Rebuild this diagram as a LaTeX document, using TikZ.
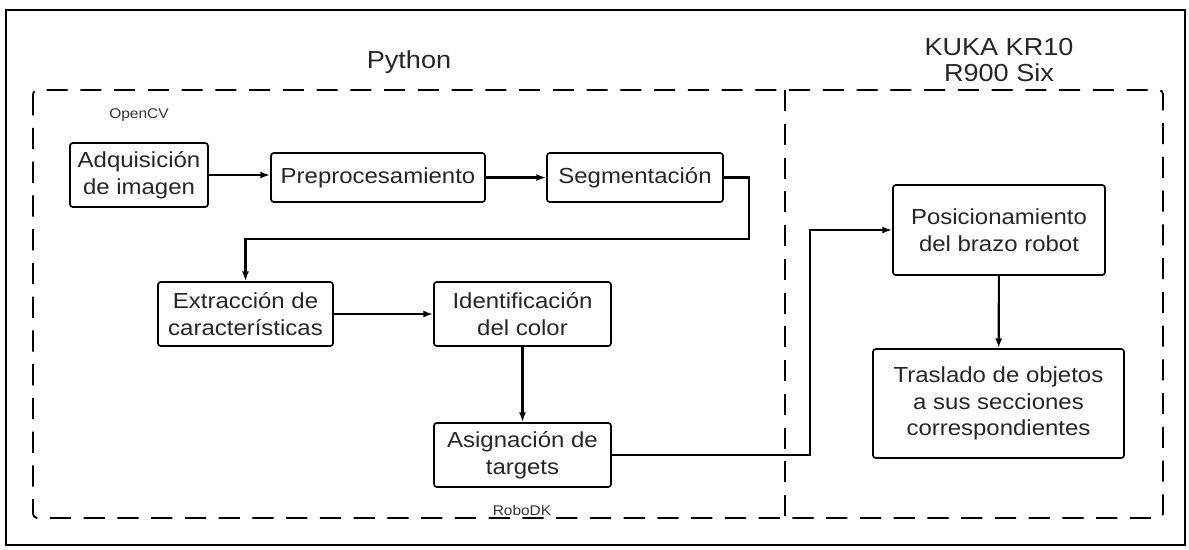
\documentclass[tikz,border=0pt]{standalone}
\usepackage{fontspec}
\setmainfont[FakeStretch=1.1]{Liberation Sans}
\usetikzlibrary{arrows.meta}

\tikzset{
  box/.style 2 args={draw, line width=1.2pt, rounded corners=2pt, align=center,
    inner sep=0pt, minimum width=#1*0.025cm, minimum height=#2*0.025cm,
    font=\fontsize{15.5}{19}\selectfont, text=black!85},
  arr/.style={line width=1.5pt, -{Latex[length=7pt,width=5pt]}},
  small/.style={font=\fontsize{10}{11}\selectfont, text=black!80},
  title/.style={align=center, font=\fontsize{17.5}{18.5}\selectfont, text=black!85}
}

\begin{document}
\begin{tikzpicture}[x=0.025cm, y=-0.025cm]
    \useasboundingbox (0,0) rectangle (1189,549);
    \draw[line width=1pt] (6,10) rectangle (1185,545);

    % frames
    \draw[line width=1.3pt, dash pattern=on 15 off 9, rounded corners=3pt]
      (33,90) rectangle (1163,518);
    \draw[line width=1.3pt, dash pattern=on 15 off 9] (785,90) -- (785,518);

    \node[title] (python) at (409,62) {Python};
    \node[title] (kuka) at (999,60) {KUKA KR10\\R900 Six};
    \node[small] (opencv) at (139,115) {OpenCV};
    \node[small] (robodk) at (522,510) {RoboDK};

    % blocks
    \node[box={138}{64}] (adq) at (139,175) {Adquisici\'on\\de imagen};
    \node[box={214}{49}] (pre) at (378,177.5) {Preprocesamiento};
    \node[box={176}{49}] (seg) at (635,177.5) {Segmentaci\'on};
    \node[box={175}{64}] (ext) at (245.5,314) {Extracci\'on de\\caracter\'isticas};
    \node[box={177}{64}] (ide) at (522.5,314) {Identificaci\'on\\del color};
    \node[box={177}{64}] (asi) at (522.5,455) {Asignaci\'on de\\targets};
    \node[box={212}{90}] (pos) at (999,230) {Posicionamiento\\del brazo robot};
    \node[box={251}{109}] (tra) at (998.5,403.5) {Traslado de objetos\\a sus secciones\\correspondientes};

    \coordinate (bendA) at (749,239);
    \coordinate (bendB) at (810,455);

    % connectors
    \draw[arr] (adq.east) -- (adq.east -| pre.west);
    \draw[arr] (pre) -- (seg);
    \draw[arr] (seg.east) -| (bendA) -| (ext.north);
    \draw[arr] (ext) -- (ide);
    \draw[arr] (ide) -- (asi);
    \draw[arr] (asi.east) -- (bendB) |- (pos.west);
    \draw[arr] (pos) -- (tra);
  \end{tikzpicture}
\end{document}
